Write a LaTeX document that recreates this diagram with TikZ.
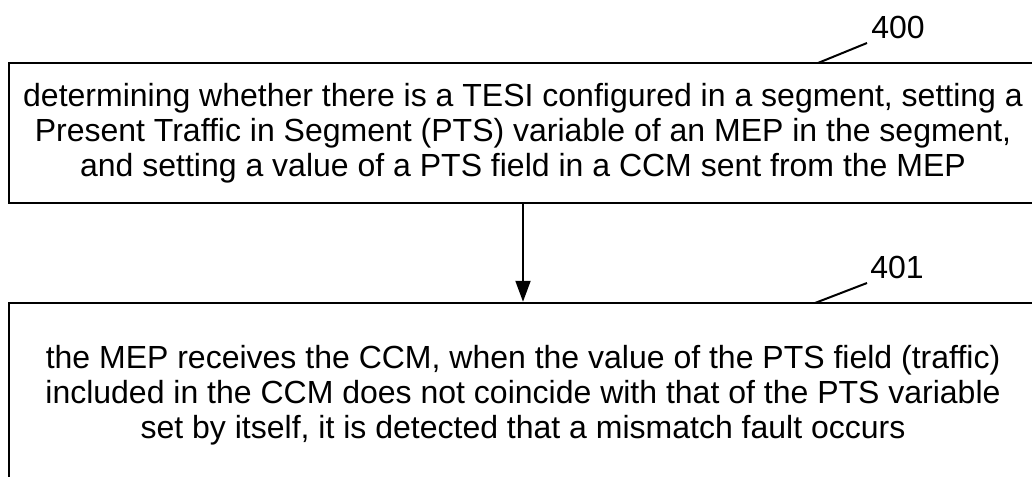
\documentclass[tikz,border=0pt]{standalone}
\usepackage{fontspec}
\setmainfont{Liberation Sans}
\usetikzlibrary{arrows.meta}
\begin{document}
\begin{tikzpicture}[x=1pt,y=-1pt,
  stepbox/.style={draw=black,line width=2.5pt,align=center,
    minimum width=1028pt,inner sep=0pt,
    font=\fontsize{32}{35}\selectfont},
  flow/.style={line width=2pt,-{Triangle[width=15pt,length=21pt]}},
  leader/.style={line width=2pt},
  reftext/.style={font=\fontsize{32}{35}\selectfont,inner sep=0pt}]
  \useasboundingbox (0,0) rectangle (1032,476);
  \clip (0,0) rectangle (1032,476);

  % process steps
  \node[stepbox,minimum height=140pt] (b1) at (523,133)
    {determining whether there is a TESI configured in a segment, setting a\\
     Present Traffic in Segment (PTS) variable of an MEP in the segment,\\
     and setting a value of a PTS field in a CCM sent from the MEP};
  \node[stepbox,minimum height=184pt] (b2) at (523,395)
    {the MEP receives the CCM, when the value of the PTS field (traffic)\\
     included in the CCM does not coincide with that of the PTS variable\\
     set by itself, it is detected that a mismatch fault occurs};

  \draw[flow] (b1.south) -- (b2.north);

  % reference numerals
  \node[reftext] (l400) at (898,27) {400};
  \node[reftext] (l401) at (897,267) {401};
  \coordinate (e400) at (867,43);
  \coordinate (s400) at (818,63);
  \coordinate (e401) at (867,283);
  \coordinate (s401) at (815,303);
  \draw[leader] (s400) -- (e400);
  \draw[leader] (s401) -- (e401);
\end{tikzpicture}
\end{document}
